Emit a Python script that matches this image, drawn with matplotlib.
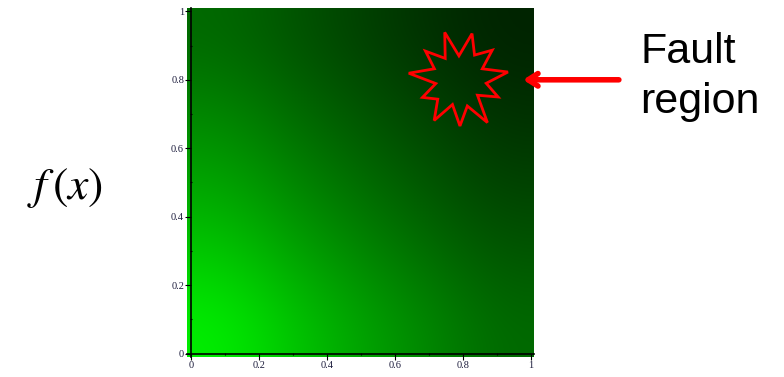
import numpy as np
import matplotlib.pyplot as plt
from matplotlib.ticker import MultipleLocator

# green channel, rows y=0 (bottom) .. y=1 (top), cols x=0..1
green = [
    [240, 200, 165, 135, 105],
    [200, 165, 135, 108, 85],
    [165, 135, 108, 85, 65],
    [135, 108, 85, 65, 48],
    [105, 85, 65, 48, 35],
]
xticks = [0, 0.2, 0.4, 0.6, 0.8, 1]
xticklabels = ['0', '0.2', '0.4', '0.6', '0.8', '1']
yticks = [0, 0.2, 0.4, 0.6, 0.8, 1]
yticklabels = ['0', '0.2', '0.4', '0.6', '0.8', '1']

# fault marker (a star burst) in data units
fault_center = (0.79, 0.80)
spike_radii = [0.145, 0.13, 0.15, 0.12, 0.14, 0.135, 0.15, 0.125, 0.145, 0.13, 0.14]
inner_radii = [0.075, 0.08, 0.07, 0.085, 0.075, 0.08, 0.07, 0.08, 0.075, 0.085, 0.07]

plt.rcParams['mathtext.fontset'] = 'stix'

fig = plt.figure(figsize=(7.84, 3.77), dpi=100)
ax = fig.add_axes([0.2385, 0.053, 0.4426, 0.926])

g = np.array(green, dtype=float) / 255.0
rgb = np.zeros(g.shape + (3,))
rgb[..., 1] = g
ax.imshow(rgb, origin='lower', extent=(-0.012, 1.01, -0.01, 1.01),
          interpolation='bicubic', aspect='auto', zorder=0)
ax.set_xlim(-0.012, 1.01)
ax.set_ylim(-0.01, 1.01)

for s in ['top', 'right']:
    ax.spines[s].set_visible(False)
ax.spines['left'].set_position(('data', 0))
ax.spines['bottom'].set_position(('data', 0))
ax.spines['left'].set_linewidth(1.2)
ax.spines['bottom'].set_linewidth(1.2)

ax.set_xticks(xticks)
ax.set_xticklabels(xticklabels)
ax.set_yticks(yticks)
ax.set_yticklabels(yticklabels)
ax.xaxis.set_minor_locator(MultipleLocator(0.1))
ax.yaxis.set_minor_locator(MultipleLocator(0.1))
ax.tick_params(which='major', length=4, width=0.8, direction='out', pad=1,
               labelsize=7.5, labelcolor='#1c1c3c')
ax.tick_params(which='minor', length=2, width=0.8, direction='inout')
for lab in ax.get_xticklabels() + ax.get_yticklabels():
    lab.set_family('Liberation Serif')

# star burst
n = len(spike_radii)
ang0 = np.pi / 2 + 0.3
pts = []
for i in range(n):
    a = ang0 + 2 * np.pi * i / n
    pts.append((fault_center[0] + spike_radii[i] * np.cos(a),
                fault_center[1] + spike_radii[i] * np.sin(a)))
    a2 = a + np.pi / n
    pts.append((fault_center[0] + inner_radii[i] * np.cos(a2),
                fault_center[1] + inner_radii[i] * np.sin(a2)))
ax.add_patch(plt.Polygon(pts, closed=True, fill=False, edgecolor='red', lw=2, zorder=3))

# arrow and label
ax.annotate('', xy=(0.978, 0.80), xycoords='data',
            xytext=(1.26, 0.80), textcoords='data',
            arrowprops=dict(arrowstyle='->,head_length=0.7,head_width=0.45',
                            color='red', lw=4, capstyle='round',
                            joinstyle='round', shrinkA=0, shrinkB=0),
            annotation_clip=False)

fig.text(640 / 784, 1 - 63 / 377, 'Fault', fontsize=31, family='Liberation Sans',
         ha='left', va='baseline')
fig.text(640 / 784, 1 - 113 / 377, 'region', fontsize=31, family='Liberation Sans',
         ha='left', va='baseline')

fig.text(65 / 784, 1 - 188 / 377, r'$f\,(x)$', fontsize=33, ha='center', va='center')

fig.savefig('out.png', dpi=100)
